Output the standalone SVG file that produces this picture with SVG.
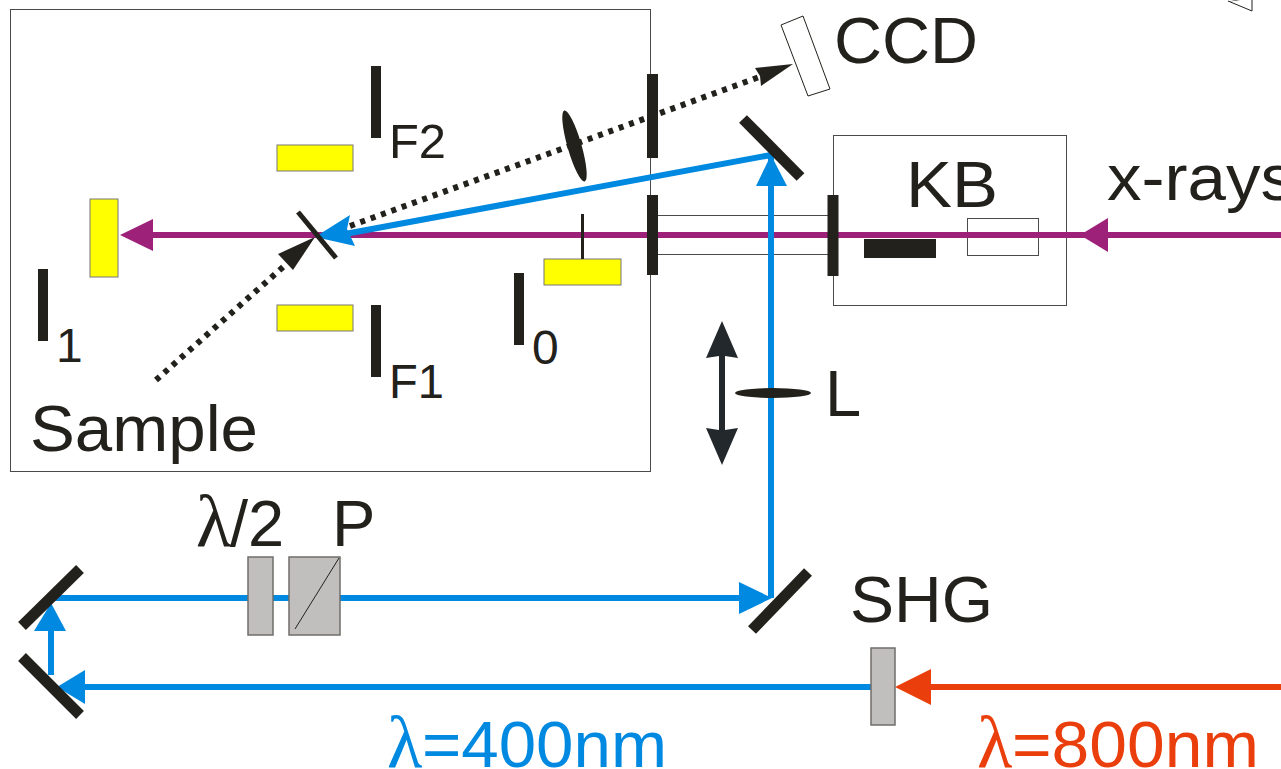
<svg xmlns="http://www.w3.org/2000/svg" width="1281" height="769" viewBox="0 0 1281 769">
<style>
text{font-family:"Liberation Sans",Arial,sans-serif;fill:#23211c}
.t{font-size:65px}
.s{font-size:48px}
.lam{font-family:"Liberation Serif",serif;font-size:73px}
.box{fill:none;stroke:#4a4a48;stroke-width:1}
.k{fill:#23211c}
.y{fill:#ffff00;stroke:#777;stroke-width:1}
.g{fill:#c0bfbd;stroke:#706e6a;stroke-width:1.500}
.b{stroke:#0089e0;stroke-width:6;fill:none}
.p{stroke:#9e2179;stroke-width:6;fill:none}
.r{stroke:#ea3f0c;stroke-width:6;fill:none}
.d{stroke:#23211c;stroke-width:6;stroke-dasharray:5 6;fill:none}
.m{stroke:#23211c;stroke-width:11;fill:none}
.fb{fill:#0089e0}.fp{fill:#9e2179}.fr{fill:#ea3f0c}
</style>
<g id="chamber"><rect class="box" x="10.500" y="9.500" width="640" height="462"/></g>
<g id="kb-box"><rect class="box" x="833.500" y="135.500" width="233" height="170"/><rect class="box" x="967.500" y="218.500" width="71" height="37"/><rect class="k" x="864" y="239" width="72" height="19"/><text class="t" x="906" y="207" textLength="92" lengthAdjust="spacingAndGlyphs">KB</text></g>
<g id="tube"><path class="box" d="M655 215.500H830M655 254.500H830"/></g>
<g id="connectors">
<path class="p" d="M1281 235H1100M1085 235H150"/>
<path class="fp" d="M1080 235L1108 218V252Z"/><path class="fp" d="M120 235L153 219V251Z"/>
<path class="d" d="M156 380L300 252"/>
<path class="k" d="M315 237L278 254L293 270Z"/>
<path class="d" d="M350 226L762 76"/>
<path class="k" d="M793 64L755 68L760 76L761 86Z"/>
<path class="b" d="M345 234L771 155V598"/>
<path class="fb" d="M315 237L350 215L347 229L355 246Z"/>
<path class="fb" d="M771 155L756 186H787Z"/>
<path class="b" d="M50 598H745"/>
<path class="fb" d="M772 598L739 582V614Z"/>
<path class="b" d="M871 687H80"/>
<path class="fb" d="M57 687L85 670V704Z"/>
<path class="b" d="M51 675V630"/>
<path class="fb" d="M51 603L34 631H66Z"/>
<path class="r" d="M1281 687H925"/>
<path class="fr" d="M895 687L931 669V705Z"/>
</g>
<g id="mirrors">
<path class="m" d="M743 119L800.500 177"/>
<path class="m" d="M752 630L808 572"/>
<path class="m" d="M22 626L80 569"/>
<path class="m" d="M22 657L80 715"/>
<path stroke="#23211c" stroke-width="5" d="M298 212L336 258"/>
<path class="m" d="M652.500 74V158M652.500 195V275M833 195V276"/>
</g>
<g id="lens-sample"><ellipse class="k" cx="574.500" cy="146" rx="7" ry="37" transform="rotate(-16 574.500 146)"/></g>
<g id="lens-L"><ellipse class="k" cx="773" cy="393" rx="38" ry="5"/></g>
<g id="double-arrow"><path fill="#22282b" d="M722 321L706 358L719 356V430L706 428L722 465L738 428L725 430V356L738 358Z"/></g>
<g id="detector-I1"><rect class="y" x="90" y="199" width="28" height="78"/><rect class="k" x="38" y="269" width="10" height="72"/><text class="s" x="56" y="362">1</text></g>
<g id="detector-F2"><rect class="y" x="277" y="145" width="76" height="26"/><rect class="k" x="371" y="66" width="10" height="72"/><text class="s" x="389" y="158" textLength="57" lengthAdjust="spacingAndGlyphs">F2</text></g>
<g id="detector-F1"><rect class="y" x="277" y="305" width="76" height="26"/><rect class="k" x="371" y="305" width="10" height="72"/><text class="s" x="389" y="398" textLength="55" lengthAdjust="spacingAndGlyphs">F1</text></g>
<g id="detector-I0"><rect class="y" x="544" y="259" width="77" height="26"/><rect class="k" x="581" y="214" width="3" height="45"/><rect class="k" x="514" y="273" width="10" height="72"/><text class="s" x="532" y="364">0</text></g>
<g id="ccd"><path d="M781 25L803 16L830 89L808 96Z" fill="#fff" stroke="#23211c" stroke-width="1"/><text class="t" x="834" y="63" textLength="144" lengthAdjust="spacingAndGlyphs">CCD</text></g>
<g id="waveplate"><rect class="g" x="248" y="557" width="25" height="78"/><text class="t" x="196" y="546"><tspan class="lam">λ</tspan><tspan x="230">/2</tspan></text></g>
<g id="polarizer"><rect class="g" x="289" y="557" width="51" height="78"/><path d="M295 629L339 558" stroke="#23211c" stroke-width="1"/><text class="t" x="332" y="546">P</text></g>
<g id="shg"><rect class="g" x="871" y="648" width="24" height="77"/><text class="t" x="850" y="622" textLength="143" lengthAdjust="spacingAndGlyphs">SHG</text></g>
<g id="labels">
<text class="t" x="30" y="451" textLength="228" lengthAdjust="spacingAndGlyphs">Sample</text>
<text class="t" x="825" y="416">L</text>
<text class="t" x="1107" y="200" textLength="188" lengthAdjust="spacingAndGlyphs">x-rays</text>
<text class="t" x="387" y="767" style="fill:#0089e0"><tspan class="lam">λ</tspan></text>
<text class="t" x="422" y="767" style="fill:#0089e0" textLength="245" lengthAdjust="spacingAndGlyphs">=400nm</text>
<text class="t" x="977" y="767" style="fill:#ea3f0c"><tspan class="lam">λ</tspan></text>
<text class="t" x="1012" y="767" style="fill:#ea3f0c" textLength="247" lengthAdjust="spacingAndGlyphs">=800nm</text>
</g>
<g id="corner"><path d="M1252 0L1252 11L1228 1" fill="#fff" stroke="#23211c" stroke-width="1"/><path class="k" d="M1227 2L1236 0H1240Z"/></g>
</svg>
